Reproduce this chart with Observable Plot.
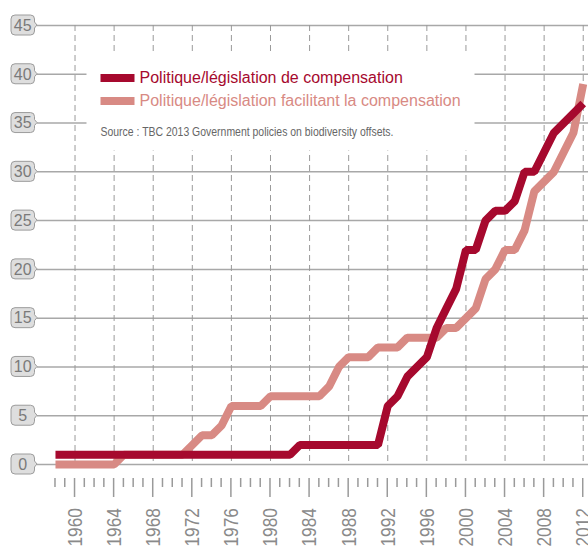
<!DOCTYPE html>
<html><head><meta charset="utf-8">
<script src="https://cdn.jsdelivr.net/npm/d3@7"></script>
<script src="https://cdn.jsdelivr.net/npm/@observablehq/plot@0.6"></script>
<style>html,body{margin:0;padding:0;background:#fff;overflow:hidden}</style>
</head><body><div id="chart"></div>
<script>
// ---- data ----
const years = d3.range(1958, 2013);
const compensation = [
  1,1,1,1,1,1,1,1,1,1, 1,1,1,1,1,1,1,1,1,1, 1,1,1,1,1,      // 1958-1982
  2,2,2,2,2,2,2,2,2,                                        // 1983-1991
  6,7,9,10,11,14,16,18,22,22,25,26,26,27,30,30,32,34,35,36,37 // 1992-2012
];
const facilitating = [
  0,0,0,0,0,0,0,                                            // 1958-1964
  1,1,1,1,1,1,1,                                            // 1965-1971
  2,3,3,4,6,6,6,6,7,7,7,7,7,7,                              // 1972-1985
  8,10,11,11,11,12,12,12,13,13,13,13,14,14,                 // 1986-1999
  15,16,19,20,22,22,24,28,29,30,32,34,39                    // 2000-2012
];
const seriesNames = ["Politique/législation de compensation", "Politique/législation facilitant la compensation"];
const sourceNote = "Source : TBC 2013 Government policies on biodiversity offsets.";
const yTicks = [0, 5, 10, 15, 20, 25, 30, 35, 40, 45];
const xTicks = d3.range(1960, 2013, 4);

const DARK = "#a6092e", PINK = "#d88a84";
const SANS = "'Liberation Sans', Arial, sans-serif";
const darkRows = years.map((y, i) => ({year: y, value: compensation[i]}));
const pinkRows = years.map((y, i) => ({year: y, value: facilitating[i]}));

// y tick "tags" drawn through the y scale
function yTags(index, scales, values, dimensions) {
  const g = d3.create("svg:g");
  const r = dimensions.marginLeft;
  for (const v of yTicks) {
    const cy = scales.y(v);
    const x0 = r - 26, x1 = r - 2.5, y0 = cy - 10, y1 = cy + 10, k = 4;
    const p = `M${x0 + k},${y0}H${x1 - k}Q${x1},${y0} ${x1},${y0 + k}V${cy - 3}L${r},${cy}L${x1},${cy + 3}V${y1 - k}Q${x1},${y1} ${x1 - k},${y1}H${x0 + k}Q${x0},${y1} ${x0},${y1 - k}V${y0 + k}Q${x0},${y0} ${x0 + k},${y0}Z`;
    g.append("path").attr("d", p).attr("fill", "#dedede").attr("stroke", "#9c9c9c").attr("stroke-width", 1);
    g.append("text").attr("x", (x0 + x1) / 2).attr("y", cy).attr("dy", "0.36em")
      .attr("text-anchor", "middle").attr("fill", "#7a7a7a")
      .attr("font-family", SANS).attr("font-size", 16)
      .text(v);
  }
  return g.node();
}

// x axis: yearly minor ticks, 4-yearly major ticks and rotated labels, through the x scale
function xAxis(index, scales, values, dimensions) {
  const g = d3.create("svg:g");
  const base = dimensions.height - dimensions.marginBottom;
  for (const yr of years) {
    const x = scales.x(yr);
    const major = xTicks.includes(yr);
    g.append("line").attr("x1", x).attr("x2", x)
      .attr("y1", base + 14).attr("y2", base + (major ? 33 : 23))
      .attr("stroke", "#9a9a9a").attr("stroke-width", 1.5);
  }
  for (const yr of xTicks) {
    const x = scales.x(yr);
    g.append("text").attr("transform", `translate(${x},${base + 44}) rotate(-90)`)
      .attr("text-anchor", "end").attr("dy", "0.36em")
      .attr("fill", "#8a8a8a").attr("font-family", SANS).attr("font-size", 20.5)
      .attr("textLength", 38.5).attr("lengthAdjust", "spacingAndGlyphs")
      .text(String(yr));
  }
  return g.node();
}

const chart = Plot.plot({
  width: 588,
  height: 548,
  marginLeft: 37,
  marginRight: 0,
  marginTop: 25,
  marginBottom: 84,
  style: {background: "#fff", fontFamily: SANS, overflow: "visible"},
  x: {domain: [1956.16, 2012.54], axis: null, label: null},
  y: {domain: [0, 45], axis: null, label: null},
  marks: [
    Plot.gridY(yTicks, {stroke: "#a8a8a8", strokeOpacity: 1, strokeWidth: 1.5}),
    Plot.gridX(xTicks, {stroke: "#9a9a9a", strokeOpacity: 1, strokeWidth: 1, strokeDasharray: "6,4"}),
    // legend background
    Plot.frame({fill: "white", stroke: null, insetLeft: 49, insetTop: 27, insetRight: 114, insetBottom: 314}),
    // legend swatches
    Plot.frame({fill: DARK, stroke: null, insetLeft: 63, insetRight: 454, insetTop: 48.5, insetBottom: 382.5}),
    Plot.frame({fill: PINK, stroke: null, insetLeft: 63, insetRight: 454, insetTop: 71.5, insetBottom: 359.5}),
    Plot.text([seriesNames[0]], {frameAnchor: "top-left", dx: 102, dy: 57, text: d => d, textAnchor: "start", lineAnchor: "bottom", fill: DARK, fontSize: 16}),
    Plot.text([seriesNames[1]], {frameAnchor: "top-left", dx: 102, dy: 80, text: d => d, textAnchor: "start", lineAnchor: "bottom", fill: PINK, fontSize: 16}),
    Plot.text([sourceNote], {frameAnchor: "top-left", dx: 63, dy: 110, text: d => d, textAnchor: "start", lineAnchor: "bottom", fill: "#666", fontSize: 13.5}),
    // lines
    Plot.line(pinkRows, {x: "year", y: "value", stroke: PINK, strokeWidth: 8, strokeLinejoin: "miter", strokeLinecap: "butt"}),
    Plot.line(darkRows, {x: "year", y: "value", stroke: DARK, strokeWidth: 8, strokeLinejoin: "miter", strokeLinecap: "butt"}),
    xAxis,
    yTags
  ]
});
document.getElementById("chart").appendChild(chart);
// fit the condensed source note to its measured width
d3.select(chart).selectAll("text").filter(function () { return this.textContent === sourceNote; })
  .attr("textLength", 293).attr("lengthAdjust", "spacingAndGlyphs");
</script>
</body></html>
